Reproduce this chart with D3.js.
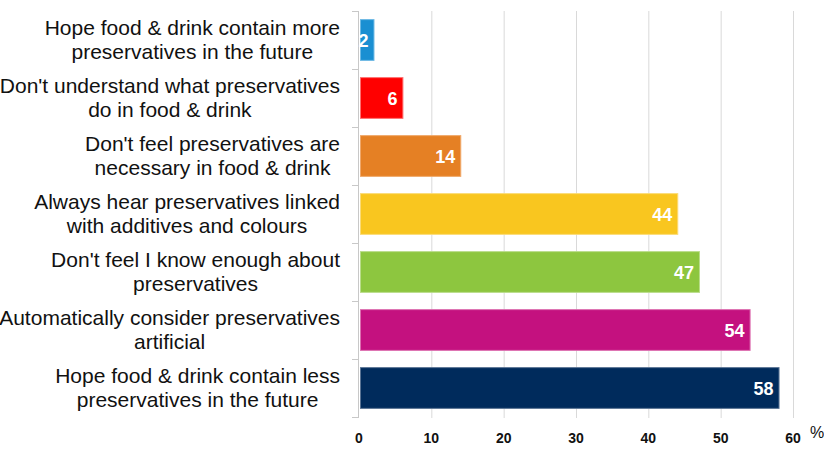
<!DOCTYPE html>
<html><head><meta charset="utf-8">
<script src="https://cdn.jsdelivr.net/npm/d3@7"></script>
<style>body{margin:0;background:#fff}svg{display:block;font-family:"Liberation Sans",Arial,sans-serif}</style>
</head><body><svg id="c" width="824" height="450"></svg>
<script>
const categories = [
  ["Hope food & drink contain more","preservatives in the future"],
  ["Don't understand what preservatives","do in food & drink"],
  ["Don't feel preservatives are","necessary in food & drink"],
  ["Always hear preservatives linked","with additives and colours"],
  ["Don't feel I know enough about","preservatives"],
  ["Automatically consider preservatives","artificial"],
  ["Hope food & drink contain less","preservatives in the future"]
];
const values = [2, 6, 14, 44, 47, 54, 58];
const colors = ["#1a8fd2", "#ff0000", "#e58024", "#f9c61f", "#8dc63f", "#c4117f", "#002b5c"];
const strokes = ["#6cb8e4", "#ff7070", "#f0a86a", "#fbdb76", "#b9dc8a", "#dc70b0", "#5a7494"];
const xTicks = [0, 10, 20, 30, 40, 50, 60];

const svg = d3.select("#c");
const x = d3.scaleLinear().domain([0, 60]).range([359, 793]);
const ids = d3.range(categories.length);
const y = d3.scaleBand().domain(ids).range([11, 417]).paddingInner(0.28).paddingOuter(0.14);
const step = y.step();

// gridlines
svg.append("g").selectAll("line").data(xTicks.slice(1)).join("line")
  .attr("x1", d => x(d) + 0.5).attr("x2", d => x(d) + 0.5)
  .attr("y1", 11).attr("y2", 418)
  .attr("stroke", "#d9d9d9").attr("stroke-width", 1);

// y axis line + ticks
svg.append("line").attr("x1", 358.5).attr("x2", 358.5).attr("y1", 11).attr("y2", 418)
  .attr("stroke", "#c8c8c8");
svg.append("g").selectAll("line").data(d3.range(categories.length + 1)).join("line")
  .attr("x1", 352).attr("x2", 359)
  .attr("y1", i => Math.round(11 + i * step) + 0.5).attr("y2", i => Math.round(11 + i * step) + 0.5)
  .attr("stroke", "#c8c8c8");

// bars
svg.append("g").selectAll("rect").data(values).join("rect")
  .attr("x", x(0) + 1.5).attr("y", (d, i) => y(i) + 0.5)
  .attr("width", d => x(d) - x(0) - 1).attr("height", y.bandwidth() - 1)
  .attr("fill", (d, i) => colors[i]).attr("stroke", (d, i) => strokes[i]).attr("stroke-width", 1);

// value labels
svg.append("g").selectAll("text").data(values).join("text")
  .attr("x", d => x(d) - 5).attr("y", (d, i) => y(i) + y.bandwidth() / 2 + 6.5)
  .attr("text-anchor", "end").attr("fill", "#fff").attr("font-weight", "bold").attr("font-size", 18)
  .text(d => d);

// category labels
const lg = svg.append("g");
categories.forEach((lines, i) => {
  const cy = 11 + i * step + step / 2;
  const t = lg.append("text").attr("font-size", 21).attr("fill", "#111").attr("text-anchor", "middle");
  const spans = lines.map((l, j) => t.append("tspan").attr("y", cy - 5 + j * 23.5).text(l));
  let w = 0;
  spans.forEach(s => { w = Math.max(w, s.node().getComputedTextLength()); });
  spans.forEach(s => s.attr("x", 340 - w / 2));
});

// x tick labels
svg.append("g").selectAll("text").data(xTicks).join("text")
  .attr("x", d => x(d)).attr("y", 443).attr("text-anchor", "middle")
  .attr("font-weight", "bold").attr("font-size", 14).attr("fill", "#111").text(d => d);
svg.append("text").attr("x", 810).attr("y", 438).attr("font-size", 16).attr("fill", "#111").text("%");
</script></body></html>
